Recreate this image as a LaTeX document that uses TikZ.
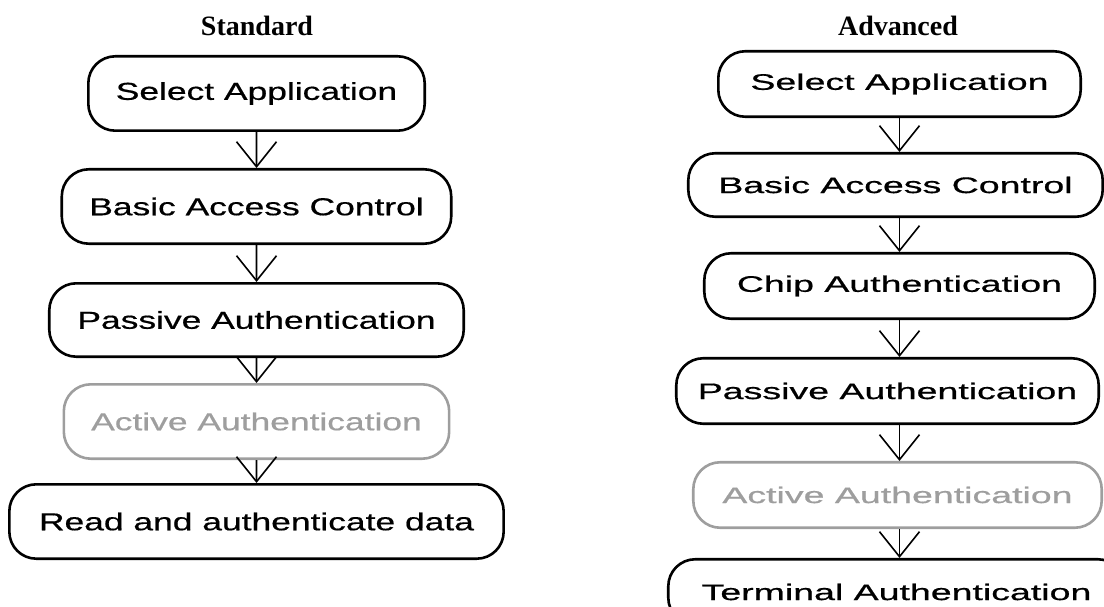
\documentclass[tikz,border=0pt]{standalone}
\usepackage{fontspec}
\setmainfont{Liberation Sans}
\newfontfamily\headfont{Liberation Serif}
\usetikzlibrary{arrows.meta}
\definecolor{skipgrey}{RGB}{158,158,158}

\begin{document}
\begin{tikzpicture}[x=1pt,y=-1pt]
    \tikzstyle{stage}=[draw, line width=2.6pt, rounded corners=27pt, inner sep=0pt, transform shape]
    \tikzstyle{std}=[stage, xscale=1.445, font=\fontsize{24.5}{28}\selectfont\addfontfeature{FakeBold=0.5}]
    \tikzstyle{adv}=[stage, xscale=1.667, font=\fontsize{22.5}{26}\selectfont\addfontfeature{FakeBold=0.5}]
    \tikzstyle{skipped}=[draw=skipgrey, text=skipgrey]
    \tikzstyle{heading}=[font=\headfont\bfseries\fontsize{28}{30}\selectfont]
    \tikzstyle{flow}=[line width=1.6pt, -{Straight Barb[length=25pt,width=40pt]}]

    \useasboundingbox (0,0) rectangle (1104,607);

    % standard inspection
    \node [heading] at (257, 26) (stdtitle) {Standard};
    \node [std, minimum width=232.8pt, minimum height=74.4pt] at (256.5, 93.5) (sa1) {Select Application};
    \node [std, minimum width=269.5pt, minimum height=74.4pt] at (256.5, 206.5) (bac1) {Basic Access Control};
    \node [std, minimum width=286.8pt, minimum height=73.4pt] at (256.5, 320) (pa1) {Passive Authentication};
    \node [std, skipped, minimum width=266.7pt, minimum height=74.4pt] at (256.5, 421.5) (aa1) {Active Authentication};
    \node [std, minimum width=342.1pt, minimum height=74.4pt] at (256.5, 521.5) (rad1) {Read and authenticate data};

    \draw [flow] (sa1) -- (bac1);
    \draw [flow] (bac1) -- (pa1);
    \draw [flow] (pa1) -- (aa1);
    \draw [flow] (aa1) -- (rad1);

    % advanced inspection
    \node [heading] at (898, 26) (advtitle) {Advanced};
    \node [adv, minimum width=217.4pt, minimum height=65.5pt] at (899.5, 84) (sa2) {Select Application};
    \node [adv, minimum width=248.6pt, minimum height=63.5pt] at (895.5, 185) (bac2) {Basic Access Control};
    \node [adv, minimum width=234.2pt, minimum height=65.5pt] at (899.5, 286) (ca2) {Chip Authentication};
    \node [adv, minimum width=253.4pt, minimum height=65.5pt] at (887.5, 391) (pa2) {Passive Authentication};
    \node [adv, skipped, minimum width=245pt, minimum height=65.5pt] at (897.5, 495) (aa2) {Active Authentication};
    \node [adv, minimum width=273.8pt, minimum height=65.5pt] at (896.5, 592) (ta2) {Terminal Authentication};

    \foreach \from/\to in {sa2/bac2, bac2/ca2, ca2/pa2, pa2/aa2, aa2/ta2}
        \draw [flow] (\from.south -| sa2) -- (\to.north -| sa2);

\end{tikzpicture}
\end{document}
